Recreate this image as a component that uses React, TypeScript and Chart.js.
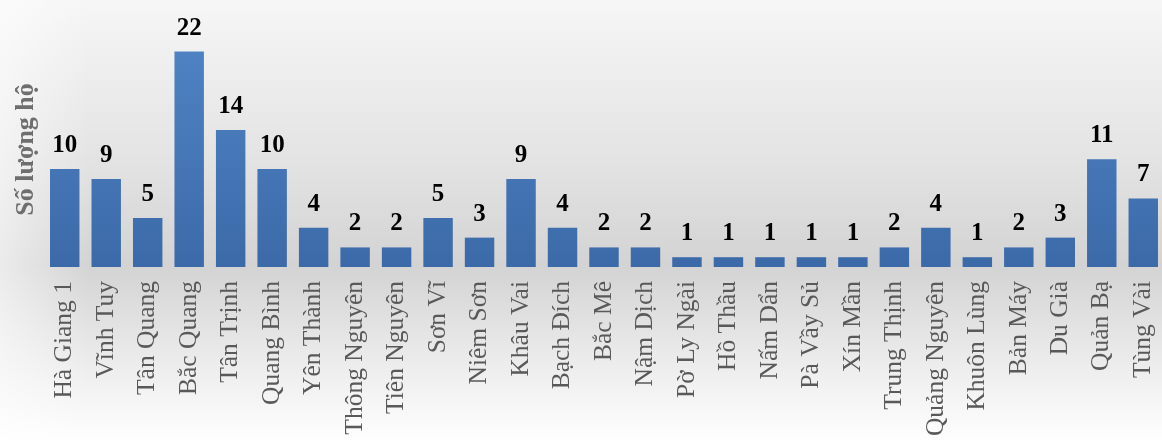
import React, { useEffect, useRef } from "react";
import { Chart, registerables } from "chart.js";

Chart.register(...registerables);

const categories = [
  "Hà Giang 1", "Vĩnh Tuy", "Tân Quang", "Bắc Quang", "Tân Trịnh", "Quang Bình",
  "Yên Thành", "Thông Nguyên", "Tiên Nguyên", "Sơn Vĩ", "Niêm Sơn", "Khâu Vai",
  "Bạch Đích", "Bắc Mê", "Nậm Dịch", "Pờ Ly Ngài", "Hồ Thầu", "Nấm Dẩn",
  "Pà Vầy Sủ", "Xín Mần", "Trung Thịnh", "Quảng Nguyên", "Khuôn Lùng", "Bản Máy",
  "Du Già", "Quản Bạ", "Tùng Vài",
];
const households = [10, 9, 5, 22, 14, 10, 4, 2, 2, 5, 3, 9, 4, 2, 2, 1, 1, 1, 1, 1, 2, 4, 1, 2, 3, 11, 7];
const yTitle = "Số lượng hộ";

const SERIF = "'Liberation Serif', 'Times New Roman', serif";

const bgPlugin = {
  id: "bgPlugin",
  beforeDraw(chart: any) {
    const { ctx, width, height } = chart;
    ctx.save();
    const g = ctx.createLinearGradient(0, 0, 0, height);
    g.addColorStop(0, "#f6f6f6");
    g.addColorStop(0.35, "#e4e4e4");
    g.addColorStop(0.6, "#d3d3d3");
    g.addColorStop(0.8, "#eaeaea");
    g.addColorStop(1, "#ffffff");
    ctx.fillStyle = g;
    ctx.fillRect(0, 0, width, height);
    const h = ctx.createLinearGradient(0, 0, 90, 0);
    h.addColorStop(0, "rgba(255,255,255,0.55)");
    h.addColorStop(1, "rgba(255,255,255,0)");
    ctx.fillStyle = h;
    ctx.fillRect(0, 0, 90, height);
    ctx.restore();
  },
};

const labelPlugin = {
  id: "labelPlugin",
  afterDatasetsDraw(chart: any) {
    const { ctx } = chart;
    const meta = chart.getDatasetMeta(0);
    ctx.save();
    ctx.font = `bold 25px ${SERIF}`;
    ctx.fillStyle = "#000000";
    ctx.textAlign = "center";
    ctx.textBaseline = "alphabetic";
    meta.data.forEach((bar: any, i: number) => {
      ctx.fillText(String(households[i]), bar.x, bar.y - 17);
    });
    ctx.restore();
  },
};

export default function App() {
  const ref = useRef<HTMLCanvasElement | null>(null);
  useEffect(() => {
    if (!ref.current) return;
    const chart = new Chart(ref.current, {
      type: "bar",
      data: {
        labels: categories,
        datasets: [
          {
            data: households,
            backgroundColor: (c: any) => {
              const area = c.chart.chartArea;
              if (!area) return "#4a7dbd";
              const g = c.chart.ctx.createLinearGradient(0, area.top, 0, area.bottom);
              g.addColorStop(0, "#5084c4");
              g.addColorStop(1, "#3c6aa9");
              return g;
            },
            borderWidth: 0,
            barPercentage: 0.71,
            categoryPercentage: 1,
          },
        ],
      },
      options: {
        animation: false,
        responsive: false,
        maintainAspectRatio: false,
        layout: { padding: { top: 32, left: 0, right: 0, bottom: 0 } },
        plugins: { legend: { display: false }, tooltip: { enabled: false } },
        scales: {
          x: {
            grid: { display: false, drawTicks: false },
            border: { display: false },
            ticks: {
              minRotation: 90,
              maxRotation: 90,
              autoSkip: false,
              padding: 14,
              color: "#595959",
              font: { family: SERIF, size: 25.5 },
            },
            afterFit: (s: any) => {
              s.height = 176;
              s.paddingLeft = 0;
              s.paddingRight = 0;
            },
          },
          y: {
            min: 0,
            max: 24,
            grid: { display: false, drawTicks: false },
            border: { display: false },
            ticks: { display: false },
            title: {
              display: true,
              text: yTitle,
              color: "#6e6e6e",
              font: { family: SERIF, size: 26, weight: "bold" },
              padding: { top: 11, bottom: 0 },
            },
            afterFit: (s: any) => {
              s.width = 44;
              s.paddingTop = 0;
              s.paddingBottom = 0;
            },
          },
        },
      },
      plugins: [bgPlugin, labelPlugin],
    });
    return () => chart.destroy();
  }, []);
  return (
    <div style={{ position: "fixed", left: 0, top: 0, width: 1162, height: 443, overflow: "hidden" }}>
      <canvas ref={ref} width={1164} height={443} style={{ display: "block" }} />
    </div>
  );
}
